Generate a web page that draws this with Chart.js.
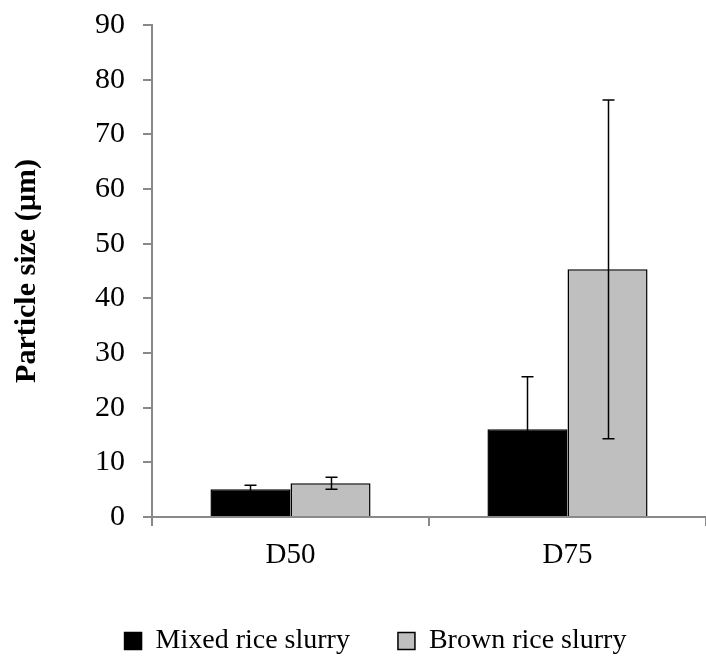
<!DOCTYPE html>
<html>
<head>
<meta charset="utf-8">
<script src="https://cdn.jsdelivr.net/npm/chart.js@4/dist/chart.umd.min.js"></script>
<style>
  html, body { margin: 0; padding: 0; background: #fff; }
  #wrap { width: 706px; height: 661px; }
</style>
</head>
<body>
<div id="wrap"><canvas id="chart" width="706" height="661"></canvas></div>
<script>
// data
const categories = ["D50", "D75"];
const mixedValues = [5.07, 16.06];
const mixedErrors = [0.73, 9.6];
const brownValues = [6.17, 45.3];
const brownErrors = [1.1, 31.0];

const yTicks = [0, 10, 20, 30, 40, 50, 60, 70, 80, 90];

const FONT = "'Liberation Serif', 'Times New Roman', serif";
const AXIS = "#898989";

// error bars drawn through the y scale
const errorBars = {
  id: "errorBars",
  afterDatasetsDraw(chart){
    const ctx = chart.ctx;
    const y = chart.scales.y;
    chart.data.datasets.forEach((ds, i) => {
      const meta = chart.getDatasetMeta(i);
      meta.data.forEach((bar, j) => {
        const v = ds.data[j], e = ds.errors[j];
        const top = y.getPixelForValue(v + e);
        const bot = y.getPixelForValue(v - e);
        const x = Math.round(bar.x) + 0.5;
        ctx.save();
        ctx.strokeStyle = "#000";
        ctx.lineWidth = 1.5;
        ctx.beginPath();
        ctx.moveTo(x, top); ctx.lineTo(x, bot);
        ctx.moveTo(x - 6, top); ctx.lineTo(x + 6, top);
        ctx.moveTo(x - 6, bot); ctx.lineTo(x + 6, bot);
        ctx.stroke();
        ctx.restore();
      });
    });
  }
};

// nudge the legend a little right of the canvas centre, like the original
const legendShift = {
  id: "legendShift",
  afterLayout(chart){ if (chart.legend) chart.legend.left = 45; }
};

new Chart(document.getElementById("chart"), {
  type: "bar",
  data: {
    labels: categories,
    datasets: [
      { label: "Mixed rice slurry", data: mixedValues, errors: mixedErrors,
        backgroundColor: "#000000", borderColor: "#000000", borderWidth: 1.5 },
      { label: "Brown rice slurry", data: brownValues, errors: brownErrors,
        backgroundColor: "#BFBFBF", borderColor: "#000000", borderWidth: 1.5 }
    ]
  },
  options: {
    responsive: false,
    animation: false,
    devicePixelRatio: 1,
    layout: { padding: { top: 25, left: 9, right: 0, bottom: -4 } },
    datasets: { bar: { categoryPercentage: 0.578, barPercentage: 1.0 } },
    plugins: {
      legend: {
        position: "bottom",
        labels: {
          color: "#000",
          font: { family: FONT, size: 28 },
          boxWidth: 17, boxHeight: 17,
          padding: 48
        }
      },
      tooltip: { enabled: false }
    },
    scales: {
      x: {
        offset: true,
        afterFit(scale){ scale.height = 62; },
        grid: { offset: true, drawOnChartArea: false, color: AXIS, lineWidth: 2, tickLength: 9 },
        border: { color: AXIS, width: 2 },
        ticks: { color: "#000", font: { family: FONT, size: 29 }, padding: 12 }
      },
      y: {
        min: 0, max: 90,
        afterFit(scale){ scale.width = 143; scale.paddingTop = 0; scale.paddingBottom = 0; },
        afterBuildTicks(scale){ scale.ticks = yTicks.map(v => ({ value: v })); },
        grid: { drawOnChartArea: false, color: AXIS, lineWidth: 2, tickLength: 9 },
        border: { color: AXIS, width: 2 },
        ticks: { color: "#000", font: { family: FONT, size: 30 }, padding: 18 },
        title: { display: true, text: "Particle size (µm)", color: "#000",
                 font: { family: FONT, size: 30, weight: "bold" }, padding: { top: 0, bottom: 10 } }
      }
    }
  },
  plugins: [errorBars, legendShift]
});
</script>
</body>
</html>
